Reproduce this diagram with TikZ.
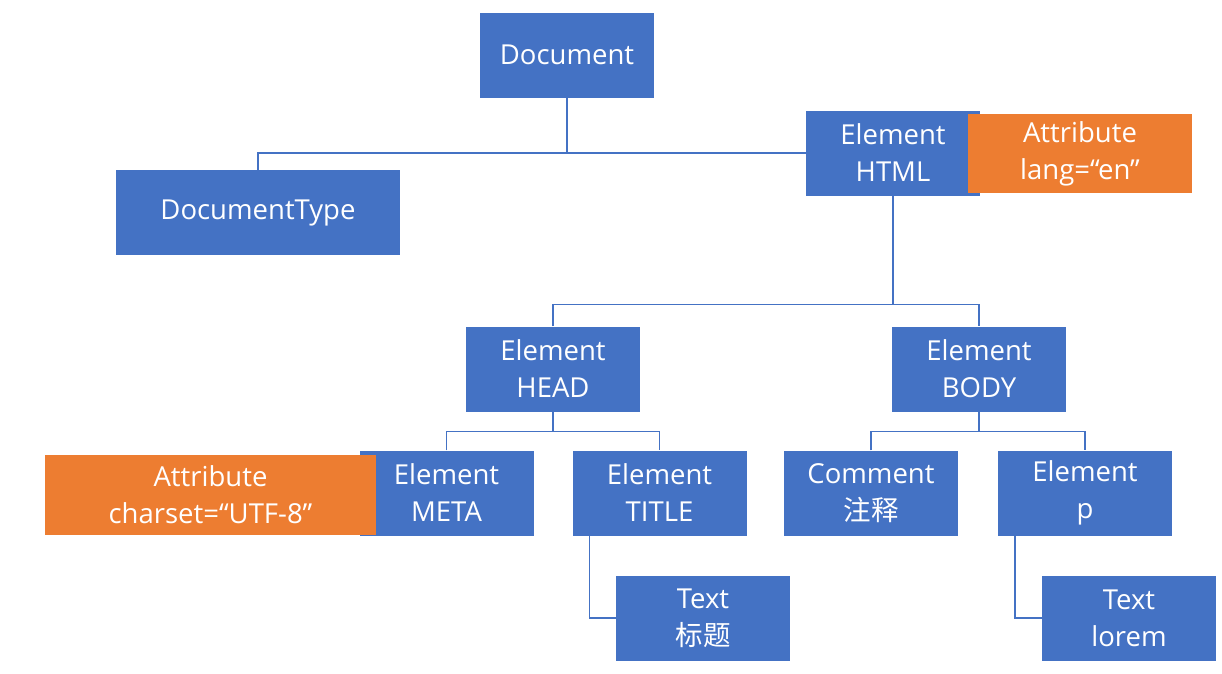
\documentclass[tikz,border=0pt]{standalone}
\usepackage{fontspec}
\setmainfont{Open Sans}
\newfontfamily\cjk{Noto Sans CJK SC}
\definecolor{nodeblue}{HTML}{4472C4}
\definecolor{attrorange}{HTML}{ED7D31}
\begin{document}
\begin{tikzpicture}[x=1pt,y=-1pt,
        box/.style={fill=nodeblue,text=white,align=center,inner sep=0pt,
                    minimum width=174pt,minimum height=85pt,
                    font=\fontsize{27.5}{37}\selectfont},
        attr/.style={box,fill=attrorange},
        link/.style={draw=nodeblue,line width=1.3pt}]
        \useasboundingbox (0,0) rectangle (1222,673);
        % boxes
        \node[box] (doc) at (567,55) {Document};
        \node[box,minimum width=284pt] (doctype) at (258,212.5) {DocumentType};
        \node[box] (html) at (893,153) {Element\\HTML};
        \node[box] (head) at (553,369) {Element\\HEAD};
        \node[box] (body) at (979,369) {Element\\BODY};
        \node[box] (meta) at (446.5,493) {Element\\META};
        \node[box] (title) at (659.5,493) {Element\\TITLE};
        \node[box] (comment) at (871,493) {Comment\\{\cjk 注释}};
        \node[box] (para) at (1085,493) {Element\\p};
        \node[box] (texta) at (703,618) {Text\\{\cjk 标题}};
        \node[box] (textb) at (1129,618) {Text\\lorem};
        \node[attr,minimum width=224pt,minimum height=79pt] (lang) at (1080,153.5) {Attribute\\lang=“en”};
        \node[attr,minimum width=331pt,minimum height=80pt] (charset) at (210.5,495) {Attribute\\charset=“UTF-8”};
        % connectors
        \draw[link] (doctype.north) |- (html.west);
        \draw[link] (doc.south) -- (doc.south |- html.west);
        \path (head.north) ++(0,-22) coordinate (hbus);
        \draw[link] (head.north) -- (hbus) -| (body.north);
        \draw[link] (html.south) -- (html.south |- hbus);
        \path (meta.north) ++(0,-19) coordinate (mbus);
        \draw[link] (meta.north) -- (mbus) -| (title.north);
        \draw[link] (head.south) -- (head.south |- mbus);
        \path (comment.north) ++(0,-19) coordinate (bbus);
        \draw[link] (comment.north) -- (bbus) -| (para.north);
        \draw[link] (body.south) -- (body.south |- bbus);
        \draw[link] ([xshift=-70pt]title.south) |- (texta.west);
        \draw[link] ([xshift=-70pt]para.south) |- (textb.west);
\end{tikzpicture}
\end{document}
